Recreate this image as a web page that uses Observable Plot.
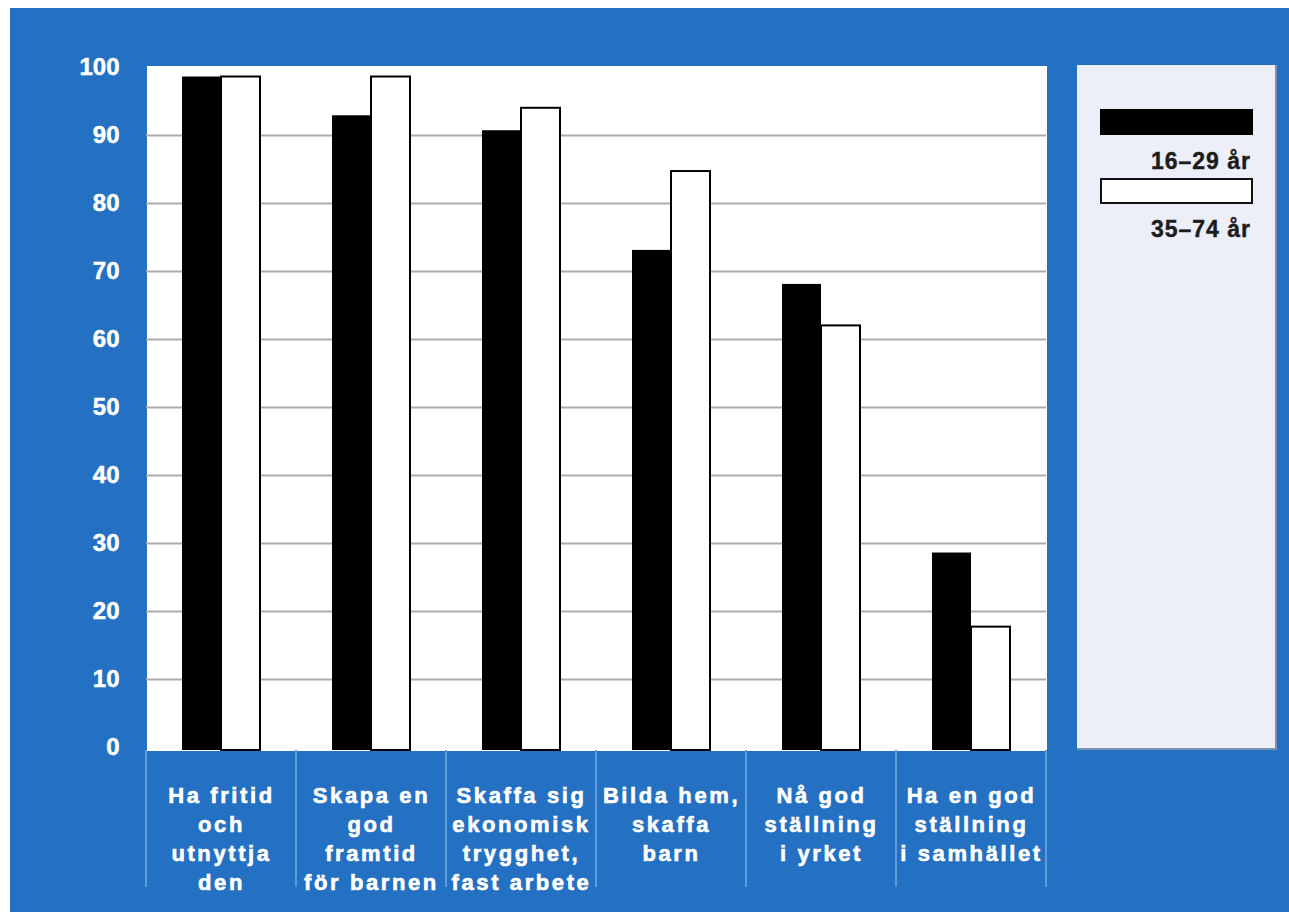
<!DOCTYPE html>
<html>
<head>
<meta charset="utf-8">
<script src="https://cdn.jsdelivr.net/npm/d3@7"></script>
<script src="https://cdn.jsdelivr.net/npm/@observablehq/plot@0.6"></script>
<style>
  html, body { margin: 0; padding: 0; background: #ffffff; }
  body { width: 1289px; height: 912px; position: relative; overflow: hidden; font-family: "Liberation Sans", Arial, sans-serif; }
  #chart { position: absolute; left: 10px; top: 8px; }
  #chart svg [aria-label="fx-axis tick label"] text { letter-spacing: 2.6px; stroke: white; stroke-width: 0.6px; }
  #chart svg [aria-label="y-axis tick label"] text { stroke: white; stroke-width: 0.5px; }
  #legend { position: absolute; left: 1077px; top: 65px; width: 198px; height: 683px;
    background: #eceef8; border-right: 2px solid #7f8fb0; border-bottom: 2px solid #7f8fb0; }
  .sw { position: absolute; left: 23px; width: 153px; height: 26px; box-sizing: border-box; }
  .lab { position: absolute; right: 24px; font-weight: bold; font-size: 23px; color: #1c1c1c; letter-spacing: 1px; line-height: 1; -webkit-text-stroke: 0.4px #1c1c1c; }
</style>
</head>
<body>
<div id="chart"></div>
<div id="legend"></div>
<script>
const categories = [
  "Ha fritid\noch\nutnyttja\nden",
  "Skapa en\ngod\nframtid\nför barnen",
  "Skaffa sig\nekonomisk\ntrygghet,\nfast arbete",
  "Bilda hem,\nskaffa\nbarn",
  "Nå god\nställning\ni yrket",
  "Ha en god\nställning\ni samhället"
];
const series = ["16–29 år", "35–74 år"];
const young = [98.6, 92.9, 90.7, 73.1, 68.1, 28.6];
const older = [98.6, 98.6, 94.0, 84.7, 62.0, 17.7];
const yTicks = [0, 10, 20, 30, 40, 50, 60, 70, 80, 90, 100];
const gridTicks = [10, 20, 30, 40, 50, 60, 70, 80, 90];

const blue = "#2470c2";
const data = [];
categories.forEach((c, i) => {
  data.push({cat: c, s: series[0], v: young[i]});
  data.push({cat: c, s: series[1], v: older[i]});
});

const W = 1279, H = 904, MB = 162;
const plot = Plot.plot({
  width: W,
  height: H,
  marginLeft: 135,
  marginRight: 242,
  marginTop: 57,
  marginBottom: MB,
  style: {background: blue, fontFamily: "'Liberation Sans', Arial, sans-serif", color: "white"},
  fx: {domain: categories, paddingInner: 0, paddingOuter: 0},
  x: {domain: series, paddingInner: 0, paddingOuter: 0.88, axis: null},
  y: {domain: [0, 100], range: [739, 59]},
  marks: [
    Plot.frame({fill: "white", stroke: null, shapeRendering: "crispEdges"}),
    Plot.gridY(gridTicks, {stroke: "#adadad", strokeOpacity: 1, strokeWidth: 2}),
    Plot.barY(data.filter(d => d.s === series[0]), {fx: "cat", x: "s", y: "v", fill: "black", insetBottom: -3}),
    Plot.barY(data.filter(d => d.s === series[1]), {fx: "cat", x: "s", y: "v", fill: "white", stroke: "black", strokeWidth: 2, insetBottom: -3}),
    Plot.axisY(yTicks, {tickSize: 0, tickPadding: 27, fontSize: 24, fontWeight: "bold", fill: "white", label: null}),
    Plot.axisFx({anchor: "bottom", tickSize: 0, tickPadding: 32, fontSize: 22, fontWeight: "bold", fill: "white", lineHeight: 1.32, label: null})
  ]
});
document.getElementById("chart").appendChild(plot);

// divider lines in the category-label band, positioned with the plot's fx scale
const fx = plot.scale("fx");
const xs = categories.map(c => fx.apply(c));
xs.push(fx.apply(categories[categories.length - 1]) + fx.bandwidth);
const y0 = H - MB;
d3.select(plot).append("g").attr("aria-label", "dividers")
  .selectAll("line").data(xs).join("line")
  .attr("x1", d => d).attr("x2", d => d)
  .attr("y1", y0).attr("y2", y0 + 137)
  .attr("stroke", "#5f9bda").attr("stroke-width", 2);

const legend = document.getElementById("legend");
legend.innerHTML = `
  <div class="sw" style="top:44px;background:#000;"></div>
  <div class="lab" style="top:85px;">${series[0]}</div>
  <div class="sw" style="top:113px;background:#fff;border:2px solid #111;"></div>
  <div class="lab" style="top:153px;">${series[1]}</div>
`;
</script>
</body>
</html>
